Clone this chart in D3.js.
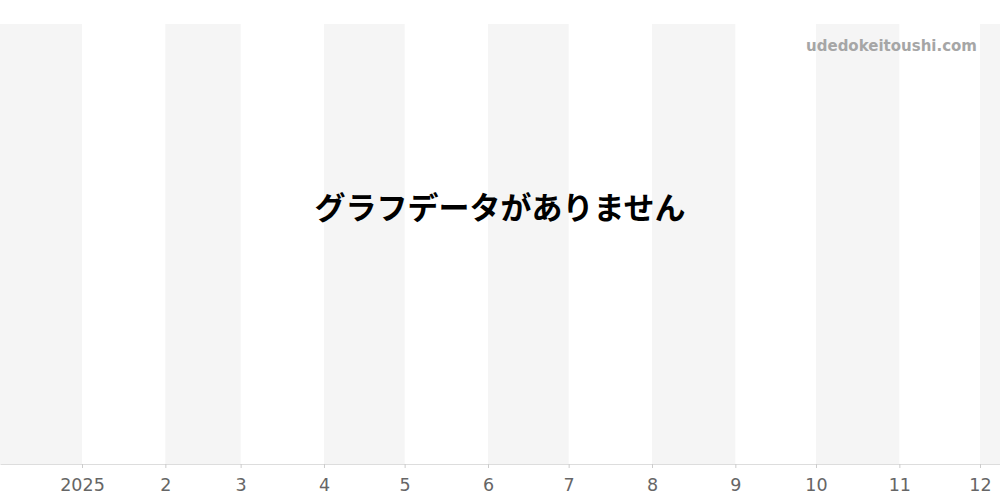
<!DOCTYPE html>
<html>
<head>
<meta charset="utf-8">
<script src="https://cdn.jsdelivr.net/npm/d3@7"></script>
<style>
    body { margin: 0; background: #fff; }
    svg { display: block; }
</style>
</head>
<body>
<div id="chart"></div>
<script>

// time window shown on the x axis
let domainStart = new Date(2024, 11, 1, 12);
let domainEnd = new Date(2025, 11, 8, 10, 30);

// month ticks and their labels
let tickDates = [
    new Date(2025, 0, 1), new Date(2025, 1, 1), new Date(2025, 2, 1), new Date(2025, 3, 1),
    new Date(2025, 4, 1), new Date(2025, 5, 1), new Date(2025, 6, 1), new Date(2025, 7, 1),
    new Date(2025, 8, 1), new Date(2025, 9, 1), new Date(2025, 10, 1), new Date(2025, 11, 1)
];
let tickLabels = ["2025", "2", "3", "4", "5", "6", "7", "8", "9", "10", "11", "12"];

let noDataText = "グラフデータがありません";
let watermark = "udedokeitoushi.com";

let margin = {top: 24, right: 0, bottom: 36, left: 0};
let width = 1000 - margin.left - margin.right;
let height = 500 - margin.top - margin.bottom;

let svg = d3.select("#chart").append("svg")
    .attr("width", 1000)
    .attr("height", 500);

let g = svg.append("g")
    .attr("transform", `translate(${margin.left}, ${margin.top})`);

let x = d3.scaleTime()
    .domain([domainStart, domainEnd])
    .range([0, width]);

// alternating month bands
let bandEdges = [domainStart].concat(tickDates, [domainEnd]);
let bands = d3.pairs(bandEdges).map((p, i) => ({start: p[0], end: p[1], shaded: i % 2 === 0}));

g.selectAll(".band")
    .data(bands.filter(d => d.shaded))
    .enter().append("rect")
    .attr("class", "band")
    .attr("x", d => x(d.start))
    .attr("width", d => x(d.end) - x(d.start))
    .attr("y", 0)
    .attr("height", height)
    .style("fill", "#f5f5f5");

// x axis
let xAxis = d3.axisBottom(x)
    .tickValues(tickDates)
    .tickFormat((d, i) => tickLabels[i])
    .tickSizeInner(4)
    .tickSizeOuter(0)
    .tickPadding(11);

let axisG = g.append("g")
    .attr("class", "x-axis")
    .attr("transform", `translate(0, ${height})`)
    .call(xAxis);

axisG.select(".domain").attr("stroke", "#dddddd");
axisG.selectAll(".tick line").attr("stroke", "#cccccc");
axisG.selectAll(".tick text")
    .style("font-family", "'DejaVu Sans', sans-serif")
    .style("font-size", "17.5px")
    .style("fill", "#666666");

// watermark
svg.append("text")
    .attr("x", 977)
    .attr("y", 51)
    .attr("text-anchor", "end")
    .style("font-family", "'DejaVu Sans', sans-serif")
    .style("font-weight", "bold")
    .style("font-size", "15px")
    .style("fill", "#a6a6a6")
    .text(watermark);

// empty state message
svg.append("text")
    .attr("x", 500)
    .attr("y", 219)
    .attr("text-anchor", "middle")
    .style("font-family", "'Noto Sans CJK JP', sans-serif")
    .style("font-weight", "bold")
    .style("font-size", "31px")
    .style("fill", "#000000")
    .text(noDataText);

</script>
</body>
</html>
